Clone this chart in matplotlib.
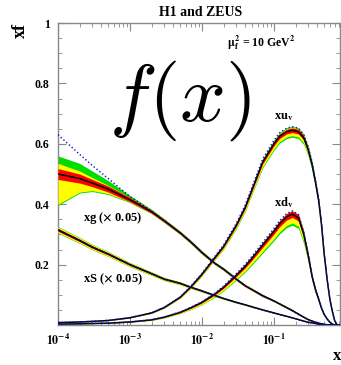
import numpy as np
import matplotlib
matplotlib.use("Agg")
import matplotlib.pyplot as plt
from matplotlib.ticker import FixedLocator, LogLocator, MultipleLocator, NullFormatter

plt.rcParams['font.family'] = ['Liberation Serif', 'DejaVu Serif']
plt.rcParams['font.weight'] = 'bold'
plt.rcParams['mathtext.fontset'] = 'stix'

# x grid shared by all curves
x = [1e-4, 2e-4, 3e-4, 5e-4, 1e-3, 2e-3, 3e-3, 5e-3, 7e-3, 0.01, 0.015, 0.02,
     0.03, 0.04, 0.05, 0.07, 0.1, 0.12, 0.15, 0.18, 0.22, 0.26, 0.3, 0.34,
     0.38, 0.42, 0.46, 0.5, 0.55, 0.6, 0.65, 0.7, 0.75, 0.8]

# central values
xuv = [0.008, 0.010, 0.012, 0.015, 0.024, 0.040, 0.058, 0.092, 0.126, 0.168, 0.222,
       0.26, 0.33, 0.39, 0.45, 0.54, 0.60, 0.625, 0.64, 0.645, 0.64, 0.62, 0.58,
       0.53, 0.47, 0.41, 0.33, 0.235, 0.15, 0.085, 0.045, 0.014, 0.002, 0.0]
xdv = [0.003, 0.004, 0.005, 0.006, 0.010, 0.017, 0.026, 0.042, 0.057, 0.075, 0.102,
       0.125, 0.165, 0.195, 0.222, 0.265, 0.31, 0.335, 0.358, 0.367, 0.355, 0.30,
       0.23, 0.16, 0.115, 0.085, 0.055, 0.035, 0.02, 0.009, 0.003, 0.0, 0.0, 0.0]
xg = [0.50, 0.485, 0.47, 0.45, 0.415, 0.375, 0.345, 0.305, 0.275, 0.24, 0.205,
      0.185, 0.152, 0.13, 0.117, 0.097, 0.08, 0.07, 0.058, 0.048, 0.036, 0.026,
      0.018, 0.013, 0.009, 0.006, 0.004, 0.002, 0.001, 0.0, 0.0, 0.0, 0.0, 0.0]
xS = [0.315, 0.28, 0.258, 0.235, 0.20, 0.17, 0.152, 0.138, 0.125, 0.113, 0.098,
      0.088, 0.075, 0.067, 0.06, 0.05, 0.04, 0.035, 0.029, 0.024, 0.018, 0.013,
      0.009, 0.007, 0.005, 0.003, 0.002, 0.001, 0.0, 0.0, 0.0, 0.0, 0.0, 0.0]

# gluon uncertainty bands (absolute), flaring at low x
xg_red = [0.018, 0.015, 0.012, 0.010, 0.007, 0.005, 0.0045, 0.004, 0.004, 0.004,
          0.003, 0.003, 0.003, 0.003, 0.003, 0.003, 0.002, 0.002, 0.002, 0.002,
          0.002, 0.001, 0.001, 0.001, 0.001, 0.001, 0.0, 0.0, 0.0, 0.0, 0.0, 0.0, 0.0, 0.0]
xg_yel_hi = [0.035, 0.025, 0.018, 0.012, 0.007, 0.006, 0.0055, 0.005, 0.005, 0.005,
             0.004, 0.004, 0.004, 0.004, 0.004, 0.003, 0.003, 0.003, 0.003, 0.002,
             0.002, 0.002, 0.001, 0.001, 0.001, 0.001, 0.0, 0.0, 0.0, 0.0, 0.0, 0.0, 0.0, 0.0]
xg_yel_lo = [0.10, 0.045, 0.025, 0.015, 0.008, 0.006, 0.0055, 0.005, 0.005, 0.005,
             0.004, 0.004, 0.004, 0.004, 0.004, 0.003, 0.003, 0.003, 0.003, 0.002,
             0.002, 0.002, 0.001, 0.001, 0.001, 0.001, 0.0, 0.0, 0.0, 0.0, 0.0, 0.0, 0.0, 0.0]
xg_grn_hi = [0.06, 0.05, 0.04, 0.028, 0.014, 0.008, 0.007, 0.006, 0.006, 0.006,
             0.005, 0.005, 0.005, 0.004, 0.004, 0.004, 0.003, 0.003, 0.003, 0.003,
             0.002, 0.002, 0.002, 0.001, 0.001, 0.001, 0.0, 0.0, 0.0, 0.0, 0.0, 0.0, 0.0, 0.0]
xg_grn_lo = [0.104, 0.048, 0.028, 0.018, 0.010, 0.007, 0.0065, 0.006, 0.006, 0.006,
             0.005, 0.005, 0.005, 0.004, 0.004, 0.004, 0.003, 0.003, 0.003, 0.003,
             0.002, 0.002, 0.002, 0.001, 0.001, 0.001, 0.0, 0.0, 0.0, 0.0, 0.0, 0.0, 0.0, 0.0]
xg_alt = [0.13, 0.08, 0.058, 0.035, 0.01, 0.003, 0.001, 0.0, 0.0, 0.0, 0.0, 0.0, 0.0,
          0.0, 0.0, 0.0, 0.0, 0.0, 0.0, 0.0, 0.0, 0.0, 0.0, 0.0, 0.0, 0.0, 0.0, 0.0,
          0.0, 0.0, 0.0, 0.0, 0.0, 0.0]

# relative band widths: red, yellow hi/lo, green hi/lo, blue-dotted shift
rel_bands = {
    'xuv': (0.012, 0.015, 0.028, 0.020, 0.036, 0.018),
    'xdv': (0.030, 0.020, 0.080, 0.030, 0.100, 0.030),
    'xS': (0.015, 0.030, 0.030, 0.035, 0.035, 0.0),
}

fig = plt.figure(figsize=(3.41, 3.65), dpi=100)
ax = fig.add_axes([58/341, 40/365, 282/341, 302/365])

xa = np.array(x)


def draw(c, red, yhi, ylo, ghi, glo, alt):
    c = np.array(c)
    ax.fill_between(xa, c - glo, c + ghi, color='#00dd00', lw=0, zorder=2)
    ax.fill_between(xa, c - ylo, c + yhi, color='#ffff00', lw=0, zorder=3)
    ax.fill_between(xa, c - red, c + red, color='#ff0000', lw=0, zorder=4)
    ax.plot(xa, c, color='black', lw=1.1, zorder=5)
    ax.plot(xa, c + alt, color='#1010c0', lw=1.0, ls=':', zorder=6)


for name, c in [('xuv', xuv), ('xdv', xdv), ('xS', xS)]:
    r, yh, yl, gh, gl, al = rel_bands[name]
    ca = np.array(c)
    draw(c, r*ca, yh*ca, yl*ca, gh*ca, gl*ca, al*ca)

draw(xg, np.array(xg_red), np.array(xg_yel_hi), np.array(xg_yel_lo),
     np.array(xg_grn_hi), np.array(xg_grn_lo), np.array(xg_alt))

ax.set_xscale('log')
ax.set_xlim(1e-4, 0.83)
ax.set_ylim(0, 1)

ax.xaxis.set_major_locator(FixedLocator([1e-4, 1e-3, 1e-2, 1e-1]))
ax.set_xticklabels([r'$\mathbf{10^{-4}}$', r'$\mathbf{10^{-3}}$',
                    r'$\mathbf{10^{-2}}$', r'$\mathbf{10^{-1}}$'])
ax.xaxis.set_minor_locator(LogLocator(base=10, subs=np.arange(2, 10)))
ax.xaxis.set_minor_formatter(NullFormatter())
ax.yaxis.set_major_locator(FixedLocator([0.2, 0.4, 0.6, 0.8, 1.0]))
ax.set_yticklabels(['0.2', '0.4', '0.6', '0.8', '1'])
ax.yaxis.set_minor_locator(MultipleLocator(0.05))

for s in ax.spines.values():
    s.set_color('#888888')
    s.set_linewidth(1.0)
ax.tick_params(which='both', direction='in', top=True, right=True, color='#888888',
               labelsize=8.5, pad=6)
ax.tick_params(which='major', length=6)
ax.tick_params(which='minor', length=3)

fig.text(201/341, 1 - 12/365, 'H1 and ZEUS', ha='center', va='center',
         fontsize=10, fontweight='bold')
fig.text(20/341, 1 - 30/365, 'xf', ha='center', va='center', rotation=90,
         fontsize=13, fontweight='bold')
fig.text(341/341, 1 - 356/365, 'x', ha='right', va='center', fontsize=12,
         fontweight='bold')

ax.text(0.6, 0.934, r'$\mathbf{\mu_f^2}$ = 10 GeV$^\mathbf{2}$', transform=ax.transAxes,
        ha='left', va='center', fontsize=8.5)
ax.text(0.8, 0.69, r'xu$_\mathbf{v}$', transform=ax.transAxes, ha='center',
        va='center', fontsize=9)
ax.text(0.8, 0.405, r'xd$_\mathbf{v}$', transform=ax.transAxes, ha='center',
        va='center', fontsize=9)
ax.text(0.09, 0.355, r'xg ($\mathbf{\times}$ 0.05)', transform=ax.transAxes,
        ha='left', va='center', fontsize=9)
ax.text(0.09, 0.15, r'xS ($\mathbf{\times}$ 0.05)', transform=ax.transAxes,
        ha='left', va='center', fontsize=9)

fig.text(180/341, 1 - 101/365, r'$f(x)$', ha='center', va='center', fontsize=58,
         math_fontfamily='cm', zorder=10)

fig.savefig('out.png', dpi=100)
